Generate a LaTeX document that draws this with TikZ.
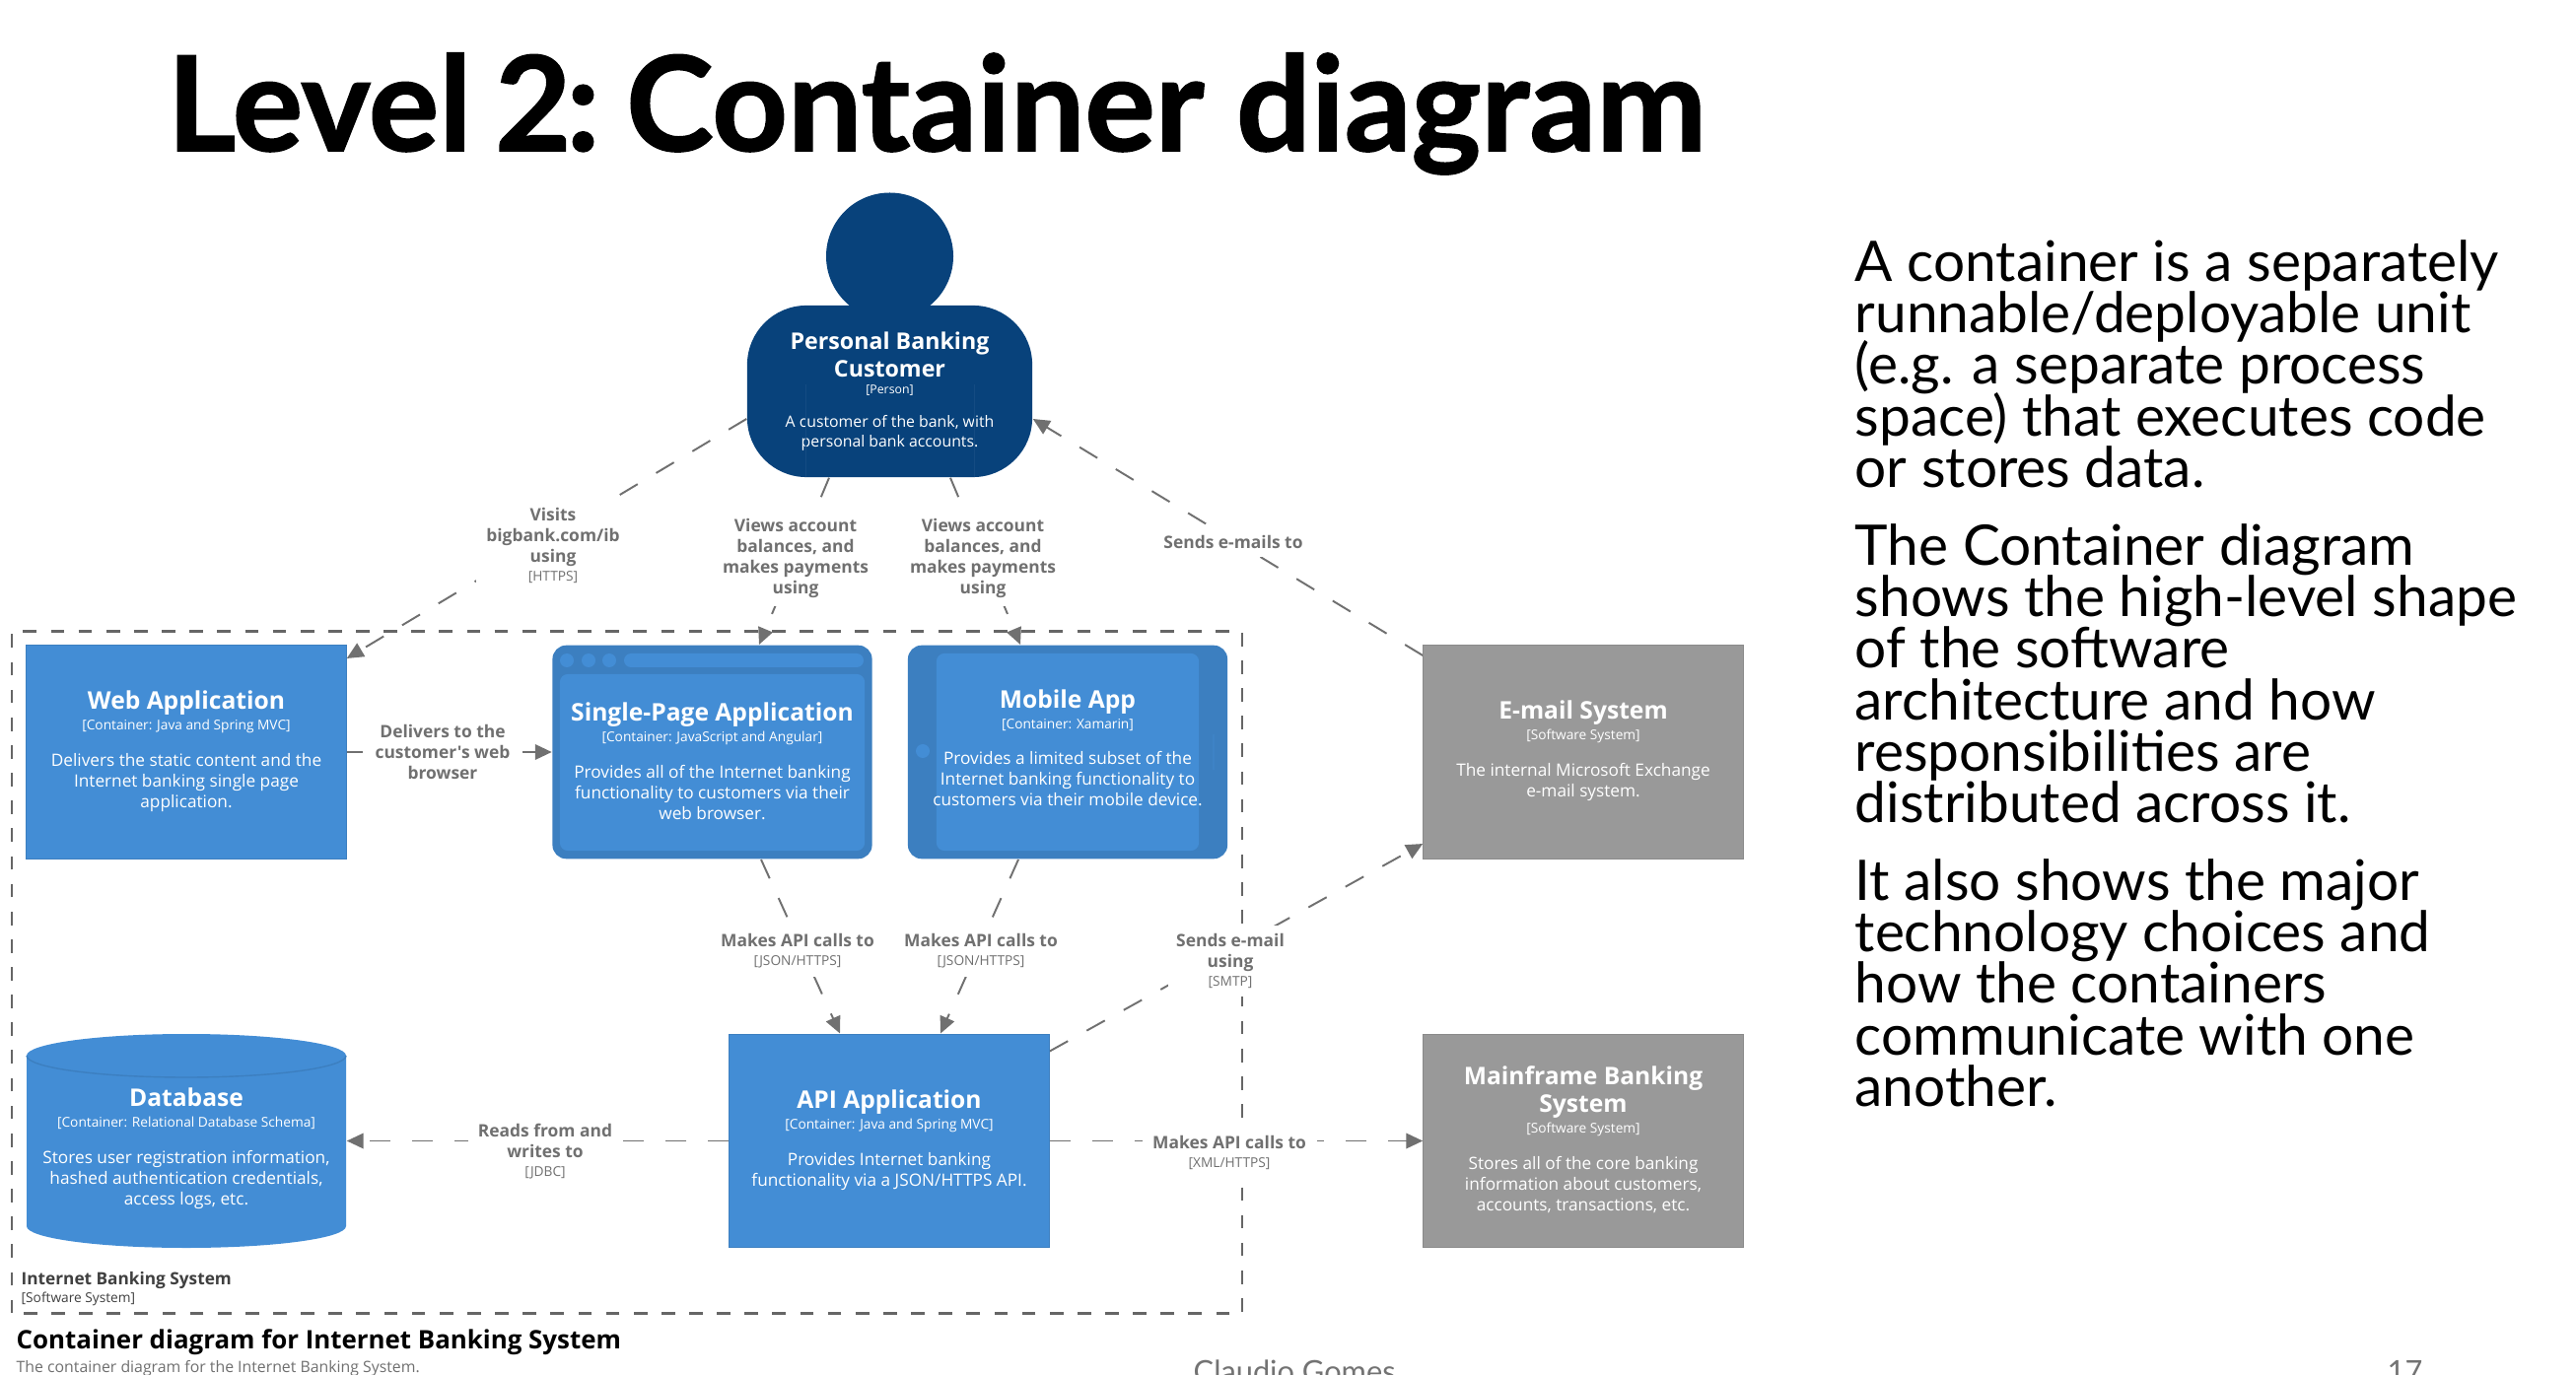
\documentclass[tikz,border=0pt]{standalone}
\usepackage{fontspec}
\setmainfont{Lato}
\newfontfamily\osans{Open Sans}
\newfontfamily\titlefont[BoldFeatures={FakeBold=1.2}]{Lato}
\usetikzlibrary{arrows.meta,calc}
\definecolor{personblue}{HTML}{08427B}
\definecolor{contblue}{HTML}{438DD5}
\definecolor{frameblue}{HTML}{3C7FC0}
\definecolor{extgray}{HTML}{999999}
\definecolor{linegray}{HTML}{707070}
\definecolor{bdgray}{HTML}{666666}
\newcommand{\boxtext}[3]{{\fontsize{7.0}{7.97}\selectfont\bfseries #1\par}\vspace{1.2pt}{\fontsize{3.9}{4.7}\selectfont #2\par}\vspace{4.5pt}{\fontsize{4.9}{5.97}\selectfont #3\par}\vspace{0.6pt}}
\newcommand{\persontext}[3]{{\fontsize{6.6}{7.97}\selectfont\bfseries #1\par}\vspace{0.3pt}{\fontsize{3.5}{4.7}\selectfont #2\par}\vspace{4pt}{\fontsize{4.5}{5.6}\selectfont #3\par}}
\newcommand{\reltext}[2]{{\fontsize{4.95}{5.97}\selectfont\bfseries #1\par}{\fontsize{3.9}{5.4}\selectfont #2\par}}
\newcommand{\bodyfont}{\fontsize{16.15}{14.85}\selectfont\lineskiplimit -30pt\relax}
\tikzset{
  base box/.style={rectangle,inner sep=0pt,text=white,align=flush center,text width=3.16cm,font=\osans},
  bluebox/.style={base box,fill=contblue,draw=frameblue,line width=0.3pt,minimum width=3.24cm,minimum height=2.165cm},
  graybox/.style={base box,fill=extgray,draw=extgray!90!black,line width=0.3pt,minimum width=3.24cm,minimum height=2.165cm},
  framebox/.style={rectangle,fill=frameblue,rounded corners=0.14cm,minimum width=3.24cm,minimum height=2.165cm,inner sep=0pt},
  innerbox/.style={base box,fill=contblue,rounded corners=0.08cm},
  rel/.style={dashed,dash pattern=on 6pt off 6.2pt,draw=linegray,line width=0.55pt,-{Triangle[length=4.8pt,width=4.4pt]}},
  rellabel/.style={fill=white,inner sep=2.4pt,text=linegray,align=flush center,font=\osans},
  boundary/.style={draw=bdgray,line width=0.65pt,dash pattern=on 3.9pt off 4.1pt},
  bodytext/.style={anchor=north west,inner sep=0pt,align=flush left,font=\bodyfont},
}
\begin{document}
\begin{tikzpicture}[x=0.01cm,y=-0.01cm]
\useasboundingbox (0,0) rectangle (2613,1395);
\clip (0,0) rectangle (2613,1395);
\fill[white] (0,0) rectangle (2613,1395);

\node[anchor=base west,inner sep=0pt,font=\titlefont\fontsize{38}{40}\selectfont\bfseries] (title) at (169,153) {Level\hspace{-2.5pt} 2\hspace{-1.5pt}:\hspace{-4.8pt} Container diagram};

\node[bodytext] (para1) at (1881,243) {A container is a separately\\runnable/deployable unit\\(e.g. a separate process\\space) that executes code\\or stores data.};
\node[bodytext] (para2) at (1881,531) {The Container diagram\\shows the high-level shape\\of the software\\architecture and how\\responsibilities are\\distributed across it.};
\node[bodytext] (para3) at (1881,871) {It also shows the major\\technology choices and\\how the containers\\communicate with one\\another.};

% system boundary
\node[draw=none,minimum width=12.46cm,minimum height=6.90cm,inner sep=0pt] (system) at (636,986.5) {};
\draw[boundary] (system.south west) -- (system.north west) -- (system.north east) -- (system.south east) -- cycle;

% shape anchors (positions of the element boxes)
\node[minimum width=3.24cm,minimum height=2.165cm,inner sep=0pt] (web) at (189,763) {};
\node[minimum width=3.24cm,minimum height=2.165cm,inner sep=0pt] (spa) at (722.5,763) {};
\node[minimum width=3.24cm,minimum height=2.165cm,inner sep=0pt] (mobile) at (1083,763) {};
\node[minimum width=3.24cm,minimum height=2.165cm,inner sep=0pt] (email) at (1606,763) {};
\node[minimum width=3.24cm,minimum height=2.165cm,inner sep=0pt] (db) at (189,1157.5) {};
\node[minimum width=3.24cm,minimum height=2.165cm,inner sep=0pt] (api) at (902,1157.5) {};
\node[minimum width=3.24cm,minimum height=2.165cm,inner sep=0pt] (main) at (1606,1157.5) {};
\node[minimum width=2.89cm,minimum height=1.74cm,inner sep=0pt] (person) at (902.5,397) {};

% connectors
\draw[rel] ($(person.west)+(0,28)$) -- ($(web.north east)+(0,14)$);
\draw[rel] ($(person.south)+(-61.5,0)$) -- ($(spa.north)+(47.5,0)$);
\draw[rel] ($(person.south)+(61.5,0)$) -- ($(mobile.north)+(-48,0)$);
\draw[rel] ($(email.north west)+(0,11)$) -- ($(person.east)+(0,28)$);
\draw[rel] (web.east) -- (spa.west);
\draw[rel] ($(spa.south)+(49.5,0)$) -- ($(api.north)+(-50,0)$);
\draw[rel] ($(mobile.south)+(-50,0)$) -- ($(api.north)+(52,0)$);
\draw[rel] ($(api.north east)+(0,18)$) -- ($(email.south west)+(0,-16)$);
\draw[rel] (api.west) -- (db.east);
\draw[rel] (api.east) -- (main.west);

% connector labels
\node[rellabel,text width=1.4cm] (l1) at (561,553) {\reltext{Visits\\bigbank.com/ib\\using}{[HTTPS]}};
\node[rellabel,text width=1.5cm] (l2) at (807,566) {\reltext{Views account\\balances, and\\makes payments\\using}{}};
\node[rellabel,text width=1.5cm] (l3) at (997,566) {\reltext{Views account\\balances, and\\makes payments\\using}{}};
\node[rellabel,text width=1.45cm] (l4) at (1251,550) {\reltext{Sends e-mails to}{}};
\node[rellabel,text width=1.45cm] (l5) at (449,763) {\reltext{Delivers to the\\customer's web\\browser}{}};
\node[rellabel,text width=1.6cm] (l6) at (809,965) {\reltext{Makes API calls to}{[JSON/HTTPS]}};
\node[rellabel,text width=1.6cm] (l7) at (995,965) {\reltext{Makes API calls to}{[JSON/HTTPS]}};
\node[rellabel,text width=1.1cm] (l8) at (1248,975) {\reltext{Sends e-mail\\using}{[SMTP]}};
\node[rellabel,text width=1.4cm] (l9) at (553,1168) {\reltext{Reads from and\\writes to}{[JDBC]}};
\node[rellabel,text width=1.6cm] (l10) at (1247,1169) {\reltext{Makes API calls to}{[XML/HTTPS]}};

% person
\fill[personblue] (902.5,260) circle [radius=64.5];
\node[base box,fill=personblue,rounded corners=0.6cm,minimum width=2.89cm,minimum height=1.74cm,text width=2.7cm] (personbody) at (person) {\persontext{Personal Banking\\Customer}{[Person]}{A customer of the bank, with\\personal bank accounts.}};
\draw[personblue!95!white,line width=0.2pt] (817,390) -- (817,484) (988,390) -- (988,484);

% web
\node[bluebox] (webbox) at (web) {\boxtext{Web Application}{[Container: Java and Spring MVC]}{Delivers the static content and the\\Internet banking single page\\application.}};

% single page app
\node[framebox] (spaframe) at (spa) {};
\fill[contblue] (575,670) circle [radius=7] (597,670) circle [radius=7] (618,670) circle [radius=7];
\fill[contblue,rounded corners=0.07cm] (633,663) rectangle (876,677);
\node[innerbox,minimum width=3.09cm,minimum height=1.79cm,text width=3.05cm] (spainner) at (722.5,773.5) {\boxtext{Single-Page Application}{[Container: JavaScript and Angular]}{Provides all of the Internet banking\\functionality to customers via their\\web browser.}};

% mobile
\node[framebox] (mobileframe) at (mobile) {};
\fill[contblue] (936,762) circle [radius=7];
\fill[contblue!30!frameblue] (1230,745) rectangle (1231.5,781);
\node[innerbox,minimum width=2.66cm,minimum height=2.0cm,text width=2.66cm] (mobileinner) at (1083,763) {};
\node[base box,text width=3.0cm] (mobiletext) at (1083,760) {\boxtext{Mobile App}{[Container: Xamarin]}{Provides a limited subset of the\\Internet banking functionality to\\customers via their mobile device.}};

% email
\node[graybox] (emailbox) at (email) {\boxtext{E-mail System}{[Software System]}{The internal Microsoft Exchange\\e-mail system.}};

% database
\fill[contblue] (27,1071) -- (27,1244) arc [start angle=180,end angle=360,x radius=162,y radius=-22] -- (351,1071) -- cycle;
\fill[contblue] (189,1071) ellipse [x radius=162,y radius=22];
\draw[frameblue,line width=0.4pt] (27,1071) arc [start angle=180,end angle=360,x radius=162,y radius=-22];
\node[base box] (dbtext) at (189,1166) {\boxtext{Database}{[Container: Relational Database Schema]}{Stores user registration information,\\hashed authentication credentials,\\access logs, etc.}};

% api
\node[bluebox] (apibox) at (api) {\boxtext{API Application}{[Container: Java and Spring MVC]}{Provides Internet banking\\functionality via a JSON/HTTPS API.}};

% mainframe
\node[graybox,text width=2.9cm] (mainbox) at (main) {\boxtext{Mainframe Banking\\System}{[Software System]}{Stores all of the core banking\\information about customers,\\accounts, transactions, etc.}};

% boundary and diagram captions
\node[anchor=base west,inner sep=0pt,font=\osans\fontsize{4.9}{5}\selectfont\bfseries,text=black!75] (sysname) at (21,1303) {Internet Banking System};
\node[anchor=base west,inner sep=0pt,font=\osans\fontsize{3.9}{5}\selectfont,text=black!75] (systype) at (21,1321) {[Software System]};
\node[anchor=base west,inner sep=0pt,font=\osans\fontsize{7.36}{9}\selectfont\bfseries] (dtitle) at (16,1368) {Container diagram for Internet Banking System};
\node[anchor=base west,inner sep=0pt,font=\osans\fontsize{4.5}{6}\selectfont,text=linegray] (dsub) at (16,1392) {The container diagram for the Internet Banking System.};

% footer
\node[anchor=base west,inner sep=0pt,font=\fontsize{8.75}{11}\selectfont,text=black!55] (author) at (1210,1402) {Claudio Gomes};
\node[anchor=base west,inner sep=0pt,font=\fontsize{8.75}{11}\selectfont,text=black!55] (page) at (2421,1402) {17};
\end{tikzpicture}
\end{document}
